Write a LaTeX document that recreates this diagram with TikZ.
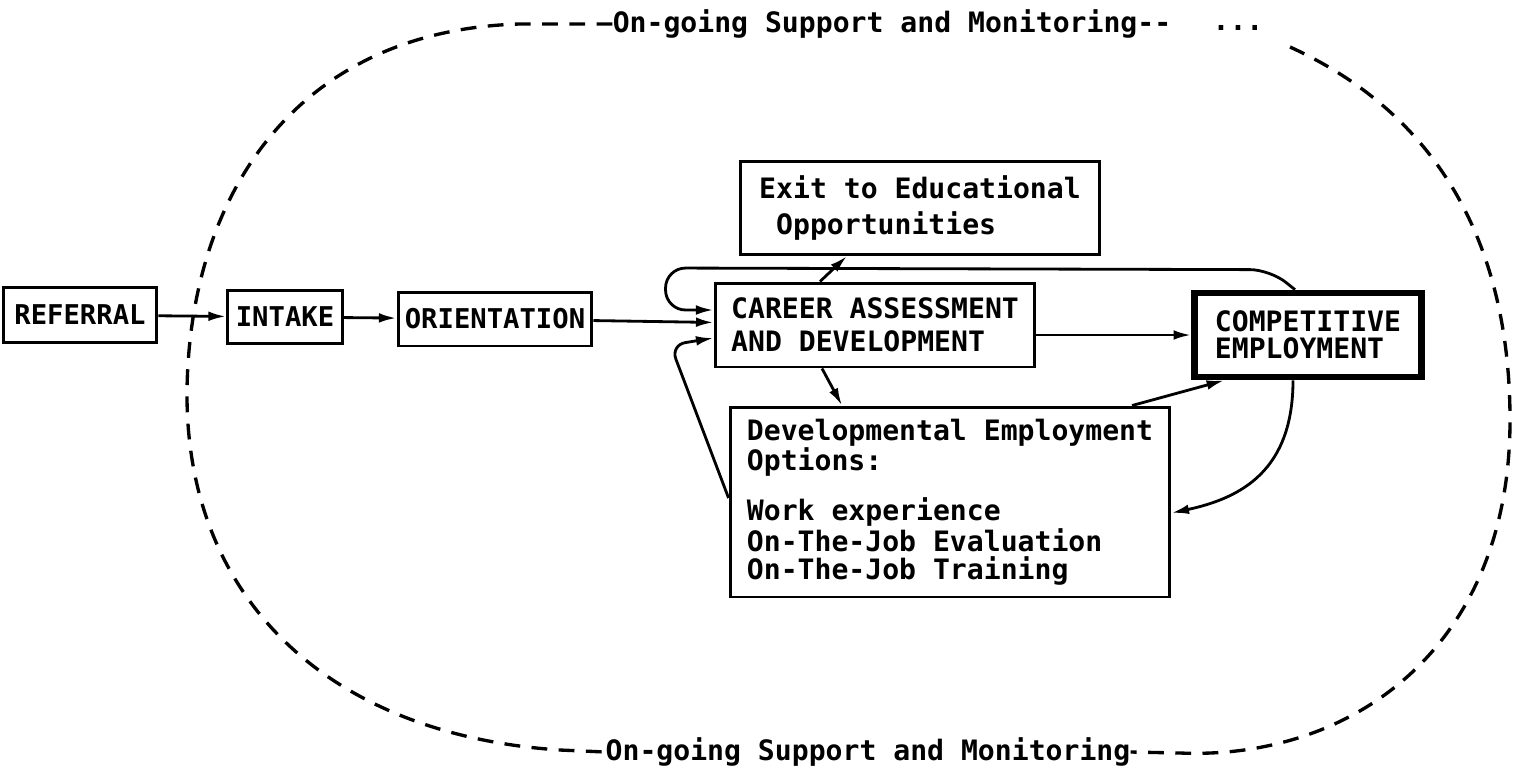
\documentclass[tikz,border=0pt]{standalone}
\usepackage{fontspec}
\setmonofont{DejaVu Sans Mono}
\usetikzlibrary{arrows.meta, calc}

\newcommand{\boxfont}[1]{\fontsize{16}{#1}\selectfont\ttfamily\bfseries}
\newcommand{\stagefont}{\fontsize{15.5}{17}\selectfont\ttfamily\bfseries}

\begin{document}
\begin{tikzpicture}[
            x=0.02cm, y=-0.02cm,
            stage/.style     ={rectangle, draw=black, line width=1.7pt, align=left,
                               inner sep=0pt, font=\boxfont{19}},
            smallstage/.style={rectangle, draw=black, line width=1.7pt,
                               inner sep=0pt, font=\stagefont},
            arrow/.style     ={-{Latex[length=10pt, width=5.5pt]}, line width=1.6pt},
            support/.style   ={dash pattern=on 9pt off 6.5pt, line width=1.9pt},
            supportnote/.style={inner sep=0pt, font=\boxfont{16}}
        ]
        \useasboundingbox (0,0) rectangle (1513,768);

        \node[smallstage, minimum width=3.08cm, minimum height=1.1cm]  (referral) at (80,315)  {REFERRAL};
        \node[smallstage, minimum width=2.3cm,  minimum height=1.06cm] (intake)   at (285,317) {INTAKE};
        \node[smallstage, minimum width=3.88cm, minimum height=1.08cm] (orient)   at (495,319) {ORIENTATION};
        \node[stage, minimum width=7.2cm, minimum height=1.86cm, font=\boxfont{20}] (exit) at (920,208)
            {Exit to Educational\\\hphantom{O}Opportunities};
        \node[stage, minimum width=6.4cm, minimum height=1.68cm] (career) at (875,325)
            {CAREER ASSESSMENT\\AND DEVELOPMENT};
        \node[stage, line width=3.8pt, minimum width=4.54cm, minimum height=1.68cm,
              font=\boxfont{15.5}] (comp) at (1308,335) {COMPETITIVE\\EMPLOYMENT};
        \node[stage, minimum width=8.8cm, minimum height=3.8cm, font=\boxfont{16}] (devopt) at (950,502)
            {Developmental Employment\\Options:\\[11pt]Work experience\\On-The-Job Evaluation\\On-The-Job Training};

        \node[supportnote] (topnote)    at (892,24)  {On-going Support and Monitoring--};
        \node[supportnote] (topdots)    at (1238,28) {...};
        \node[supportnote] (bottomnote) at (868,752) {On-going Support and Monitoring};

        \draw[support] (topnote.west) -- (520,24) .. controls (300,30) and (190,190) .. (187,390)
            .. controls (185,600) and (330,735) .. (560,750) -- (bottomnote.west);
        \draw[support] (1290,47) .. controls (1450,120) and (1510,260) .. (1510,420)
            .. controls (1510,650) and (1350,760) .. (1180,753) -- (bottomnote.east);

        \draw[arrow] (referral) -- (intake);
        \draw[arrow] (intake)   -- (orient);
        \draw[arrow] (orient)   -- (career);
        \draw[arrow] ($(career.east)+(0,10)$) -- (comp.west);
        \draw[arrow] ($(career.north)+(-55,0)$) -- ($(exit.south)+(-73,0)$);
        \draw[arrow] ($(career.south)+(-53,0)$) -- ($(devopt.north)+(-108,0)$);
        \draw[arrow] ($(devopt.north)+(182,0)$) -- ($(comp.south west)+(33,0)$);
        \draw[arrow] ($(comp.south)+(-15,0)$) .. controls +(0,90) and +(70,-15) .. ($(devopt.east)+(0,11)$);
        \draw[arrow, rounded corners=0.4cm] ($(comp.north)+(-13,0)$) -- ++(-25,-20)
            -- ($(career.west)+(-48,-57)$) -- ($(career.west)+(-48,-15)$) -- ($(career.west)+(0,-15)$);
        \draw[arrow, rounded corners=0.3cm] ($(devopt.west)+(0,-4)$)
            -- ($(career.west)+(-43,20)$) -- ($(career.west)+(0,13)$);
        \end{tikzpicture}
\end{document}
